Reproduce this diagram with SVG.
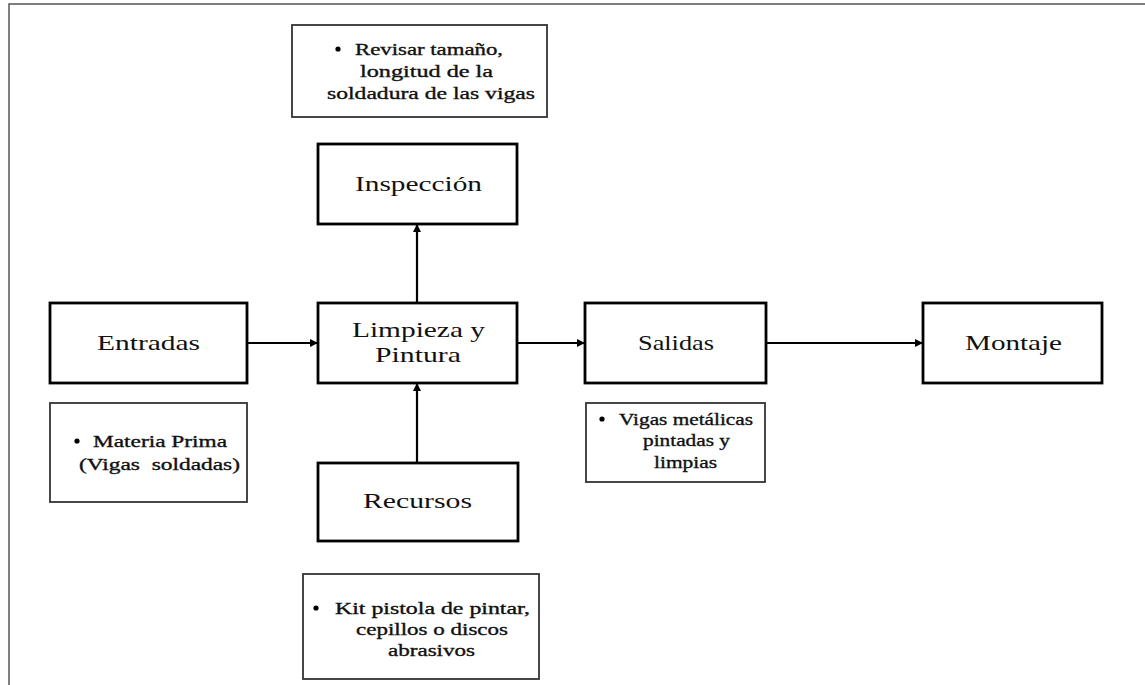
<svg xmlns="http://www.w3.org/2000/svg" width="1145" height="685" viewBox="0 0 1145 685">
  <style>
    .frame { fill: none; stroke: #555; stroke-width: 1.5; }
    .box { fill: #fff; stroke: #000; stroke-width: 2.8; }
    .note { fill: #fff; stroke: #333; stroke-width: 1.8; }
    .lbl { font-family: "Liberation Serif", "Times New Roman", serif; font-size: 22px; fill: #111; }
    .sm { font-family: "Liberation Serif", "Times New Roman", serif; font-size: 17px; fill: #111; stroke: #111; stroke-width: 0.35; }
    .edge { fill: none; stroke: #000; stroke-width: 2.2; marker-end: url(#arr); }
    .dot { fill: #000; }
  </style>
  <defs>
    <marker id="arr" viewBox="0 0 10 10" refX="10" refY="5" markerWidth="9" markerHeight="8" markerUnits="userSpaceOnUse" orient="auto">
      <path d="M0,0 L10,5 L0,10 Z" fill="#000"/>
    </marker>
  </defs>

  <!-- page frame (top and left edges) -->
  <path class="frame" d="M9,685 V4 H1145"/>

  <g id="connectors">
    <line class="edge" x1="247" y1="343" x2="318" y2="343"/>
    <line class="edge" x1="517" y1="343" x2="585" y2="343"/>
    <line class="edge" x1="766" y1="343" x2="923" y2="343"/>
    <line class="edge" x1="417" y1="303" x2="417" y2="224"/>
    <line class="edge" x1="417" y1="463" x2="417" y2="383"/>
  </g>

  <g id="note-inspeccion">
    <rect class="note" x="292" y="25" width="255" height="92"/>
    <circle class="dot" cx="338" cy="49" r="2.6"/>
    <text class="sm" x="355" y="55" textLength="148" lengthAdjust="spacingAndGlyphs">Revisar tamaño,</text>
    <text class="sm" x="360" y="77" textLength="133" lengthAdjust="spacingAndGlyphs">longitud de la</text>
    <text class="sm" x="327" y="99" textLength="208" lengthAdjust="spacingAndGlyphs">soldadura de las vigas</text>
  </g>

  <g id="inspeccion">
    <rect class="box" x="318" y="144" width="199" height="80"/>
    <text class="lbl" x="355" y="191" textLength="127" lengthAdjust="spacingAndGlyphs">Inspección</text>
  </g>

  <g id="entradas">
    <rect class="box" x="50" y="303" width="197" height="80"/>
    <text class="lbl" x="97" y="350" textLength="103" lengthAdjust="spacingAndGlyphs">Entradas</text>
  </g>

  <g id="limpieza">
    <rect class="box" x="318" y="303" width="199" height="80"/>
    <text class="lbl" x="352" y="337" textLength="133" lengthAdjust="spacingAndGlyphs">Limpieza y</text>
    <text class="lbl" x="375" y="362" textLength="86" lengthAdjust="spacingAndGlyphs">Pintura</text>
  </g>

  <g id="salidas">
    <rect class="box" x="585" y="303" width="181" height="80"/>
    <text class="lbl" x="638" y="350" textLength="76" lengthAdjust="spacingAndGlyphs">Salidas</text>
  </g>

  <g id="montaje">
    <rect class="box" x="923" y="303" width="179" height="80"/>
    <text class="lbl" x="965" y="350" textLength="97" lengthAdjust="spacingAndGlyphs">Montaje</text>
  </g>

  <g id="note-entradas">
    <rect class="note" x="50" y="403" width="197" height="99"/>
    <circle class="dot" cx="77" cy="441" r="2.6"/>
    <text class="sm" x="93" y="447" textLength="134" lengthAdjust="spacingAndGlyphs">Materia Prima</text>
    <text class="sm" x="79" y="470" textLength="161" lengthAdjust="spacingAndGlyphs">(Vigas&#160; soldadas)</text>
  </g>

  <g id="note-salidas">
    <rect class="note" x="586" y="403" width="179" height="79"/>
    <circle class="dot" cx="602" cy="419" r="2.6"/>
    <text class="sm" x="619" y="425" textLength="134" lengthAdjust="spacingAndGlyphs">Vigas metálicas</text>
    <text class="sm" x="643" y="446" textLength="87" lengthAdjust="spacingAndGlyphs">pintadas y</text>
    <text class="sm" x="654" y="468" textLength="63" lengthAdjust="spacingAndGlyphs">limpias</text>
  </g>

  <g id="recursos">
    <rect class="box" x="318" y="463" width="200" height="78"/>
    <text class="lbl" x="363" y="508" textLength="109" lengthAdjust="spacingAndGlyphs">Recursos</text>
  </g>

  <g id="note-recursos">
    <rect class="note" x="303" y="574" width="236" height="105"/>
    <circle class="dot" cx="316" cy="608" r="2.6"/>
    <text class="sm" x="335" y="614" textLength="195" lengthAdjust="spacingAndGlyphs">Kit pistola de pintar,</text>
    <text class="sm" x="356" y="635" textLength="152" lengthAdjust="spacingAndGlyphs">cepillos o discos</text>
    <text class="sm" x="388" y="656" textLength="87" lengthAdjust="spacingAndGlyphs">abrasivos</text>
  </g>
</svg>
